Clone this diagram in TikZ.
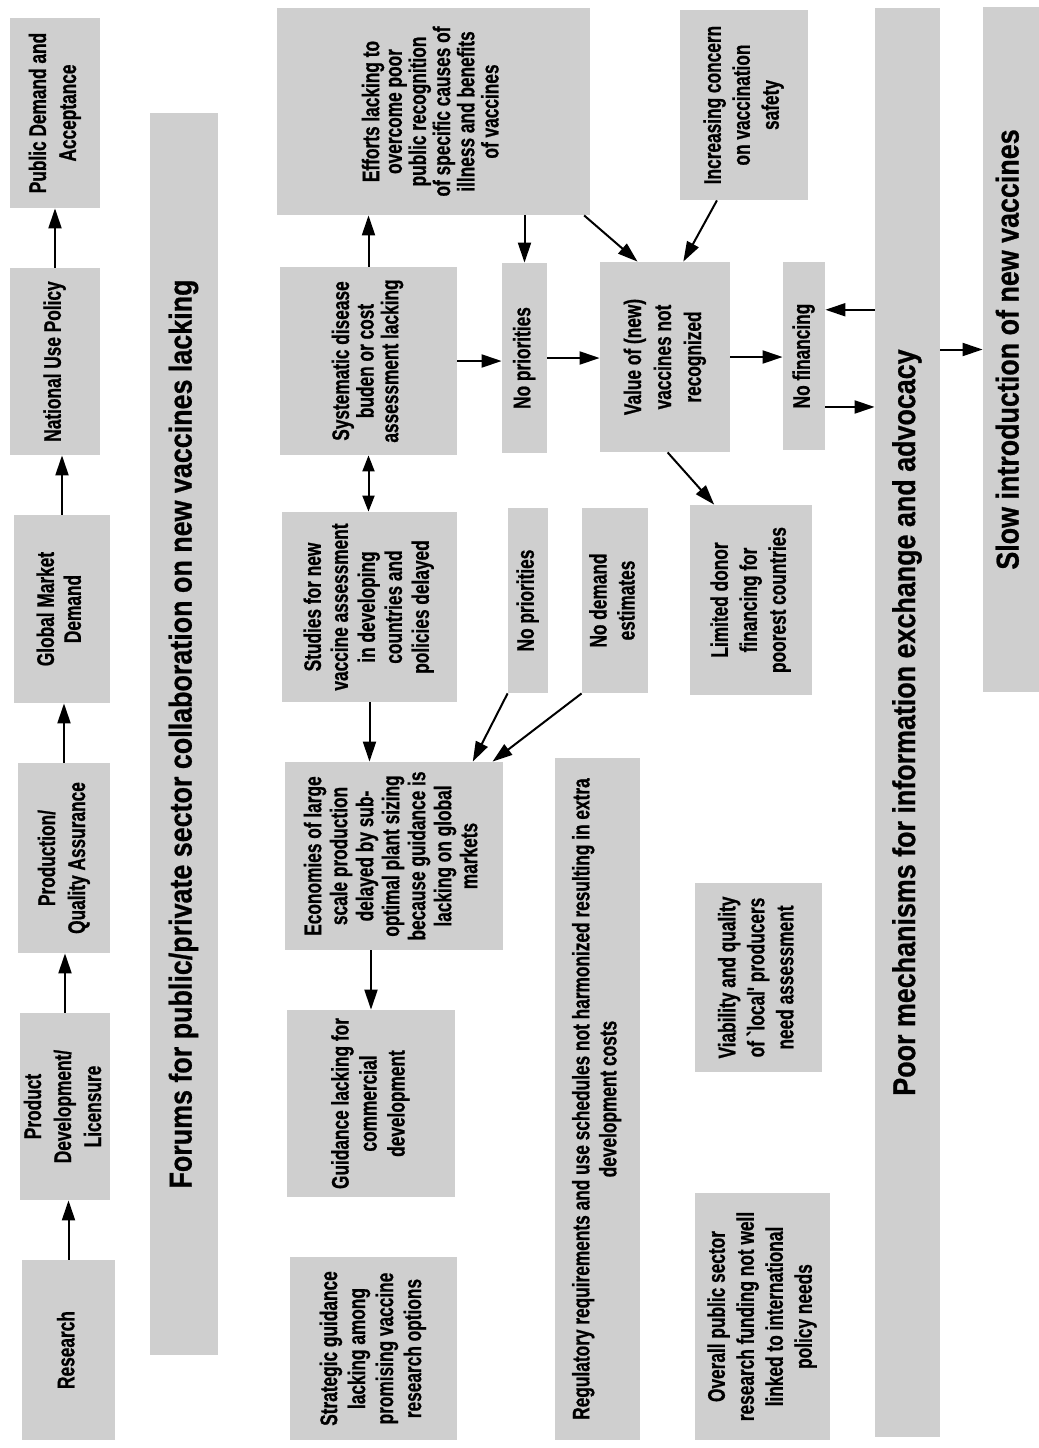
\documentclass[tikz,border=0pt]{standalone}
\usepackage{fontspec}
\usepackage{graphicx}
\newfontfamily\cf[FakeStretch=0.72,FakeBold=0.8]{Liberation Sans}
\newfontfamily\cfw[FakeStretch=0.85,FakeBold=0.8]{Liberation Sans}
\usetikzlibrary{arrows.meta,calc}
\newcommand\rtxt[1]{\rotatebox{90}{\begin{tabular}{@{}c@{}}#1\end{tabular}}}
% \bx{options}{name}{x1}{y1}{x2}{y2}{text}
\newcommand\bx[7]{\node[box,#1,minimum width={(#5-#3)*0.5pt},minimum height={(#6-#4)*0.5pt}] (#2) at ({(#3+#5)/2},{(#4+#6)/2}) {\rtxt{#7}};}
\begin{document}
\begin{tikzpicture}[x=0.5pt,y=-0.5pt,
  fs/.style 2 args={font=\cf\bfseries\fontsize{#1}{#2}\selectfont},
  box/.style={fill=black!19, inner sep=0pt, fs={12}{14.5}},
  banner/.style={box, font=\cfw\bfseries\fontsize{15.8}{19}\selectfont},
  arr/.style={-{Triangle[length=10pt,width=6.5pt]}, line width=1pt},
  darr/.style={{Triangle[length=8pt,width=6pt]}-{Triangle[length=8pt,width=6pt]}, line width=1pt}]
\useasboundingbox (0,0) rectangle (1039,1448);
% top row
\bx{fs={12}{15}}{pda}{10}{18}{100}{208}{Public Demand and\\Acceptance}
\bx{}{nup}{10}{268}{100}{455}{National Use Policy}
\bx{fs={12}{13.5}}{gmd}{14}{515}{110}{703}{Global Market\\Demand}
\bx{fs={12}{15}}{pqa}{18}{763}{110}{953}{Production/\\Quality Assurance}
\bx{fs={12}{15}}{pdl}{20}{1013}{110}{1200}{Product\\Development/\\Licensure}
\bx{}{res}{22}{1260}{115}{1440}{Research}
\draw[arr] (res.north) -- (res.north |- pdl.south);
\draw[arr] (pdl.north) -- (pdl.north |- pqa.south);
\draw[arr] (pqa.north) -- (pqa.north |- gmd.south);
\draw[arr] (gmd.north) -- (gmd.north |- nup.south);
\draw[arr] (nup.north) -- (nup.north |- pda.south);
% forums banner
\bx{banner}{forum}{150}{113}{218}{1355}{Forums for public/private sector collaboration on new vaccines lacking}
% middle column
\bx{fs={12}{11.3}}{eff}{277}{8}{590}{215}{Efforts lacking to\\overcome poor\\public recognition\\of specific causes of\\illness and benefits\\of vaccines}
\bx{fs={12}{12}}{sys}{280}{267}{457}{455}{Systematic disease\\buden or cost\\assessment lacking}
\bx{fs={12}{13.5}}{stu}{282}{512}{457}{702}{Studies for new\\vaccine assessment\\in developing\\countries and\\policies delayed}
\bx{fs={12}{13}}{eco}{285}{762}{503}{950}{Economies of large\\scale production\\delayed by sub-\\optimal plant sizing\\because guidance is\\lacking on global\\markets}
\bx{fs={12}{14}}{gui}{287}{1010}{455}{1197}{Guidance lacking for\\commercial\\development}
\bx{fs={12}{14}}{str}{290}{1257}{457}{1440}{Strategic guidance\\lacking among\\promising vaccine\\research options}
\bx{}{np1}{502}{263}{547}{453}{No priorities}
\bx{}{np2}{508}{508}{548}{693}{No priorities}
\bx{fs={12}{14}}{nd}{582}{508}{648}{693}{No demand\\estimates}
\bx{fs={12}{15}}{val}{600}{262}{730}{452}{Value of (new)\\vaccines not\\recognized}
\bx{}{inc}{680}{10}{808}{200}{Increasing concern\\on vaccination\\safety}
\bx{}{nf}{783}{262}{825}{450}{No financing}
\bx{}{lim}{690}{505}{812}{695}{Limited donor\\financing for\\poorest countries}
\bx{fs={12}{13.5}}{reg}{555}{758}{640}{1440}{Regulatory requirements and use schedules not harmonized resulting in extra\\development costs}
\bx{}{via}{695}{883}{822}{1072}{Viability and quality\\of `local' producers\\need assessment}
\bx{}{ovr}{695}{1193}{830}{1440}{Overall public sector\\research funding not well\\linked to international\\policy needs}
\bx{banner}{poor}{875}{8}{940}{1437}{Poor mechanisms for information exchange and advocacy}
\bx{banner}{slow}{983}{7}{1039}{692}{Slow introduction of new vaccines}
% connectors
\draw[arr] (sys.north) -- (sys.north |- eff.south);
\draw[darr] (sys.south) -- (sys.south |- stu.north);
\draw[arr] (stu.south) -- (stu.south |- eco.north);
\draw[arr] (gui.north |- eco.south) -- (gui.north);
\draw[arr] (sys.east) -- (sys.east -| np1.west);
\draw[arr] (eff.south -| np1.north) -- (np1.north);
\draw[arr] (np1.east) -- (np1.east -| val.west);
\draw[arr] ($(eff.south west)!0.98!(eff.south east)$) -- ($(val.north west)!0.29!(val.north east)$);
\draw[arr] ($(inc.south west)!0.29!(inc.south east)$) -- ($(val.north west)!0.64!(val.north east)$);
\draw[arr] (val.east) -- (val.east -| nf.west);
\draw[arr] ($(val.south west)!0.52!(val.south east)$) -- ($(lim.north west)!0.2!(lim.north east)$);
\draw[arr] (np2.south west) -- ($(eco.north west)!0.86!(eco.north east)$);
\draw[arr] (nd.south west) -- ($(eco.north west)!0.95!(eco.north east)$);
\coordinate (nfa) at ($(nf.north east)!0.255!(nf.south east)$);
\coordinate (nfb) at ($(nf.north east)!0.77!(nf.south east)$);
\draw[arr] (nfa -| poor.west) -- (nfa);
\draw[arr] (nfb) -- (nfb -| poor.west);
\draw[arr] (slow.west -| poor.east) -- (slow.west);
\end{tikzpicture}
\end{document}
